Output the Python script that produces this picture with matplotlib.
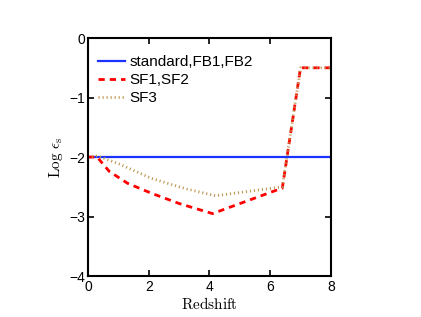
import numpy as np
import matplotlib
matplotlib.use("Agg")
import matplotlib.pyplot as plt

# values
z_std = [0, 8]
eps_std = [-2, -2]

z_sf12 = [0, 0.3, 0.7, 1.3, 2.1, 3.0, 4.1, 6.4, 7.0, 8]
eps_sf12 = [-2, -2, -2.24, -2.44, -2.61, -2.78, -2.95, -2.52, -0.5, -0.5]

z_sf3 = [0, 0.3, 1.0, 2.1, 3.2, 4.2, 6.4, 7.0, 8]
eps_sf3 = [-2, -1.98, -2.11, -2.36, -2.53, -2.65, -2.5, -0.5, -0.5]

plt.rcParams['font.family'] = ['Liberation Sans', 'DejaVu Sans']
plt.rcParams['mathtext.fontset'] = 'cm'

fig = plt.figure(figsize=(4.21, 3.17), dpi=100)
ax = fig.add_axes([0.209, 0.129, 0.577, 0.751])

ax.plot(z_std, eps_std, color='#1e32ff', lw=1.6, label='standard,FB1,FB2')
ax.plot(z_sf12, eps_sf12, color='#ff0000', lw=2, ls=(0, (2.25, 1.8)), label='SF1,SF2')
ax.plot(z_sf3, eps_sf3, color='#be9650', lw=2, ls=(0, (0.4, 1.05)), label='SF3')

ax.set_xlim(0, 8)
ax.set_ylim(-4, 0)
ax.set_xticks([0, 2, 4, 6, 8])
ax.set_yticks([-4, -3, -2, -1, 0])
ax.tick_params(direction='in', length=4, width=1.2, labelsize=10,
               top=True, right=True)
ax.tick_params(axis='x', pad=3)
ax.tick_params(axis='y', pad=2)
for s in ax.spines.values():
    s.set_linewidth(1.5)

ax.set_xlabel(r'$\mathrm{Redshift}$', fontsize=11, labelpad=1)
ax.set_ylabel(r'$\mathrm{Log}\ \epsilon_{\rm s}$', fontsize=11, labelpad=3)

ax.legend(loc='upper left', bbox_to_anchor=(0.015, 0.955), frameon=False,
          fontsize=11, handlelength=1.8, handletextpad=0.25,
          labelspacing=0.27, borderaxespad=0, borderpad=0.4)

fig.savefig('out.png', dpi=100)
